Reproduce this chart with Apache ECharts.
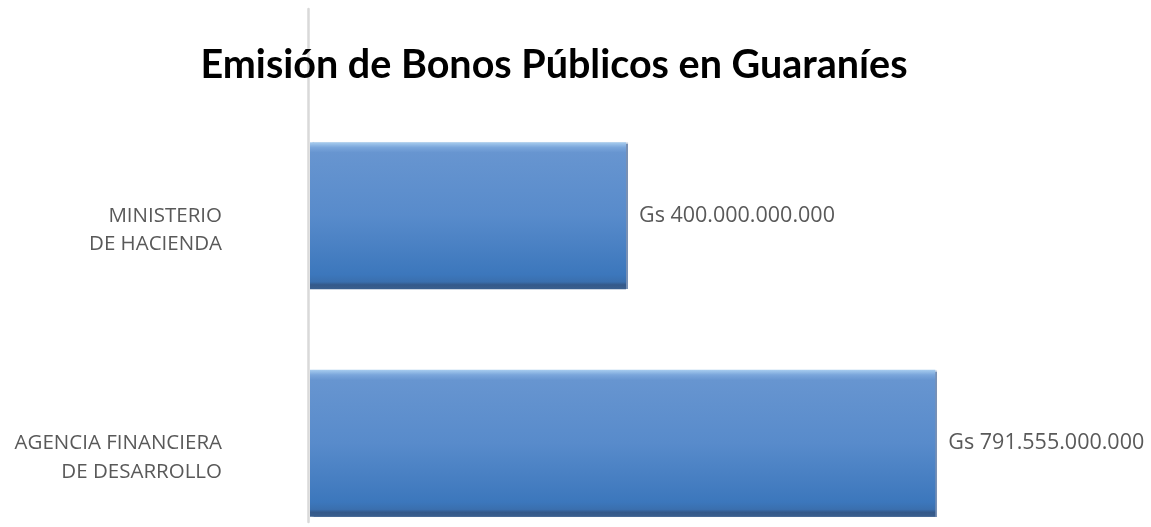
<!DOCTYPE html>
<html><head><meta charset="utf-8">
<script src="https://cdn.jsdelivr.net/npm/echarts@6/dist/echarts.min.js"></script>
<style>html,body{margin:0;padding:0;background:#fff}#c{width:1151px;height:527px}</style>
</head><body><div id="c"></div>
<script>
const titleText = 'Emisión de Bonos Públicos en Guaraníes';
const categories = ['AGENCIA FINANCIERA\nDE DESARROLLO', 'MINISTERIO\nDE HACIENDA'];
const values = [791555000000, 400000000000];
const xMax = 1000000000000;

function fmt(v){ return 'Gs ' + String(v).replace(/\B(?=(\d{3})+(?!\d))/g, '.'); }

const chart = echarts.init(document.getElementById('c'), null, {renderer:'canvas'});
chart.setOption({
  animation:false,
  backgroundColor:'#ffffff',
  title:{ text:titleText, left:549, top:40, textAlign:'center',
    textStyle:{ fontFamily:'Lato', fontWeight:'bold', fontSize:39.5, color:'#000' } },
  grid:[
    { left:310, width:790, top:102, height:455, outerBoundsMode:'none', containLabel:false },
    { left:308.5, width:790, top:9, bottom:5, outerBoundsMode:'none', containLabel:false }
  ],
  xAxis:[
    { gridIndex:0, type:'value', min:0, max:xMax, show:false },
    { gridIndex:1, type:'value', min:0, max:1, show:false }
  ],
  yAxis:[
    { gridIndex:0, type:'category', data:categories, axisLine:{show:false}, axisTick:{show:false},
      axisLabel:{ margin:88, fontFamily:'Open Sans', fontSize:20.5, color:'#595959', lineHeight:28.5, align:'right',
        formatter:v=>'\n'+v } },
    { gridIndex:1, type:'category', data:[''], axisLine:{show:true, lineStyle:{color:'#d9d9d9', width:2.5}},
      axisTick:{show:false}, axisLabel:{show:false} }
  ],
  series:[{
    type:'bar', xAxisIndex:0, yAxisIndex:0, data:values, barCategoryGap:'35.4%',
    itemStyle:{
      color:new echarts.graphic.LinearGradient(0,0,0,1,[
        {offset:0, color:'#a8cdef'},
        {offset:0.035, color:'#7aa6db'},
        {offset:0.07, color:'#6795d0'},
        {offset:0.5, color:'#588bcb'},
        {offset:0.9, color:'#3c77bc'},
        {offset:0.95, color:'#3a6fae'},
        {offset:0.97, color:'#34598a'},
        {offset:1, color:'#3a5f8e'}
      ]),
      shadowColor:'rgba(30,70,130,0.6)', shadowOffsetX:1.5, shadowOffsetY:0, shadowBlur:1
    },
    label:{ show:true, position:'right', distance:13, formatter:p=>fmt(p.value),
      fontFamily:'Open Sans', fontSize:21.5, color:'#595959' }
  }]
});
</script></body></html>
